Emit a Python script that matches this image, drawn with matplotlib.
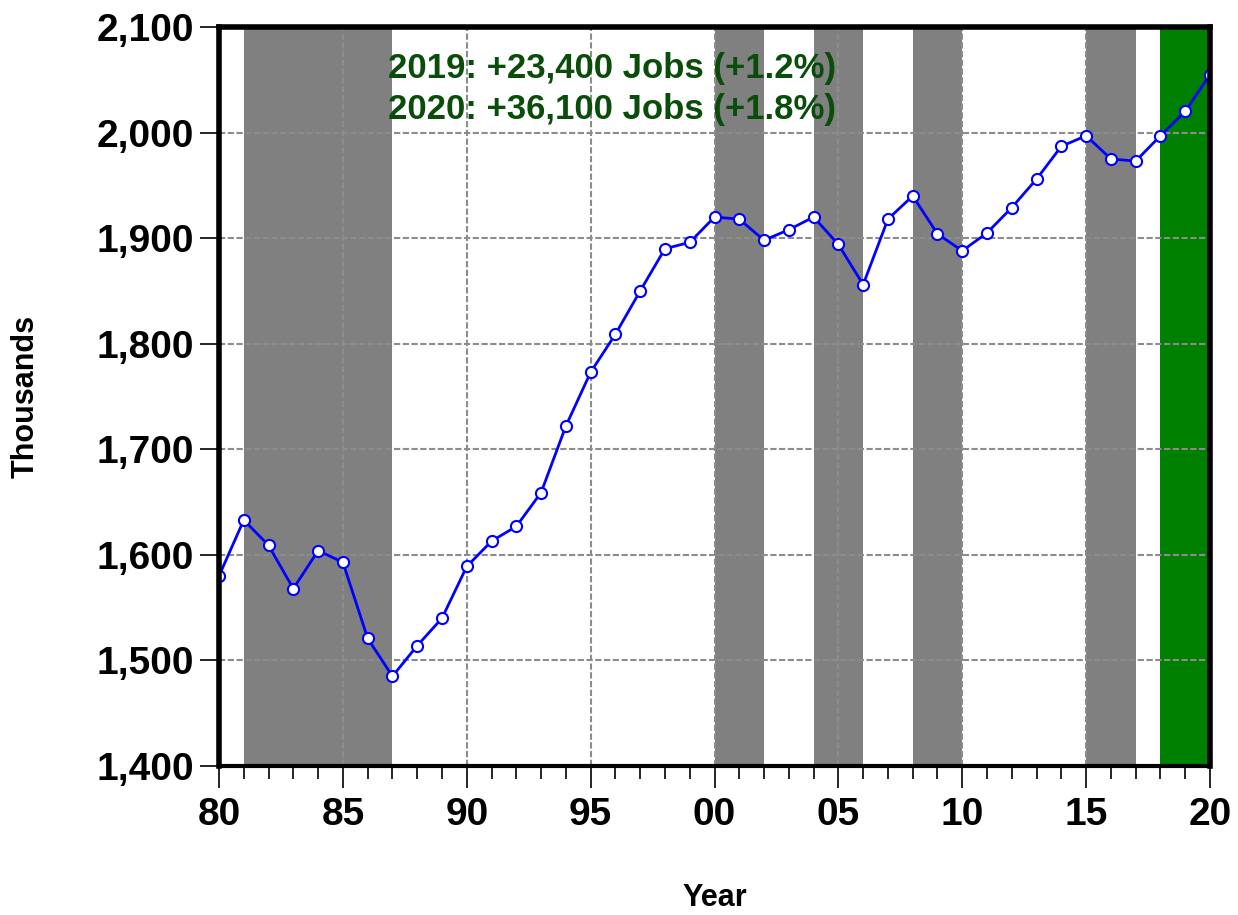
import matplotlib.pyplot as plt
import numpy as np

years = list(range(1980, 2021))
jobs = [1580, 1633, 1609, 1568, 1604, 1593, 1521, 1485, 1514, 1540,
        1589, 1613, 1627, 1659, 1722, 1773, 1809, 1850, 1890, 1896,
        1920, 1918, 1898, 1908, 1920, 1894, 1856, 1918, 1940, 1904,
        1888, 1905, 1929, 1956, 1987, 1997, 1975, 1973, 1997, 2020,
        2055]

# shaded periods
gray_bands = [(1981, 1987), (2000, 2002), (2004, 2006), (2008, 2010), (2015, 2017)]
green_band = (2018, 2020)

notes = ["2019: +23,400 Jobs (+1.2%)", "2020: +36,100 Jobs (+1.8%)"]

x_ticks = [1980, 1985, 1990, 1995, 2000, 2005, 2010, 2015, 2020]
x_labels = ["80", "85", "90", "95", "00", "05", "10", "15", "20"]
y_ticks = [1400, 1500, 1600, 1700, 1800, 1900, 2000, 2100]

plt.rcParams['font.family'] = ['Liberation Sans', 'DejaVu Sans']
plt.rcParams['font.weight'] = 'bold'

fig = plt.figure(figsize=(12.38, 9.15), dpi=100)
ax = fig.add_axes([0.1769, 0.1628, 0.8005, 0.8077])

for a, b in gray_bands:
    ax.axvspan(a, b, color='#808080', lw=0, zorder=1)
ax.axvspan(green_band[0], green_band[1], color='#008000', lw=0, zorder=1)

ax.grid(True, color='#8c8c8c', linestyle=(0, (3, 1.2)), linewidth=1.5)
ax.set_axisbelow(False)

ax.plot(years, jobs, color='#0000ff', lw=2, marker='o', markersize=8,
        markerfacecolor='white', markeredgecolor='#0000ff', markeredgewidth=1.5,
        zorder=4, clip_on=True)

ax.set_xlim(1980, 2020)
ax.set_ylim(1400, 2100)
ax.set_xticks(x_ticks)
ax.set_xticklabels(x_labels)
ax.set_xticks(range(1980, 2021), minor=True)
ax.set_yticks(y_ticks)
ax.set_yticklabels([f"{v:,}" for v in y_ticks])

ax.tick_params(axis='both', which='major', labelsize=28, direction='out',
               length=16, width=1.2, color='black')
ax.tick_params(axis='x', which='minor', direction='out', length=9, width=1.2)
ax.tick_params(axis='x', which='major', pad=6)
ax.tick_params(axis='y', which='major', length=14, pad=4)

for side in ['left', 'right', 'top']:
    ax.spines[side].set_linewidth(4)
ax.spines['bottom'].set_linewidth(3)
for sp in ax.spines.values():
    sp.set_zorder(10)

ax.set_xlabel("Year", fontsize=22, fontweight='bold', labelpad=36)
ax.set_ylabel("Thousands", fontsize=22, fontweight='bold', labelpad=40)

ax.text(0.171, 0.944, notes[0], transform=ax.transAxes, fontsize=25,
        fontweight='bold', color='#0a4d0a', va='center', ha='left', zorder=5)
ax.text(0.171, 0.888, notes[1], transform=ax.transAxes, fontsize=25,
        fontweight='bold', color='#0a4d0a', va='center', ha='left', zorder=5)

fig.savefig("out.png", dpi=100)
